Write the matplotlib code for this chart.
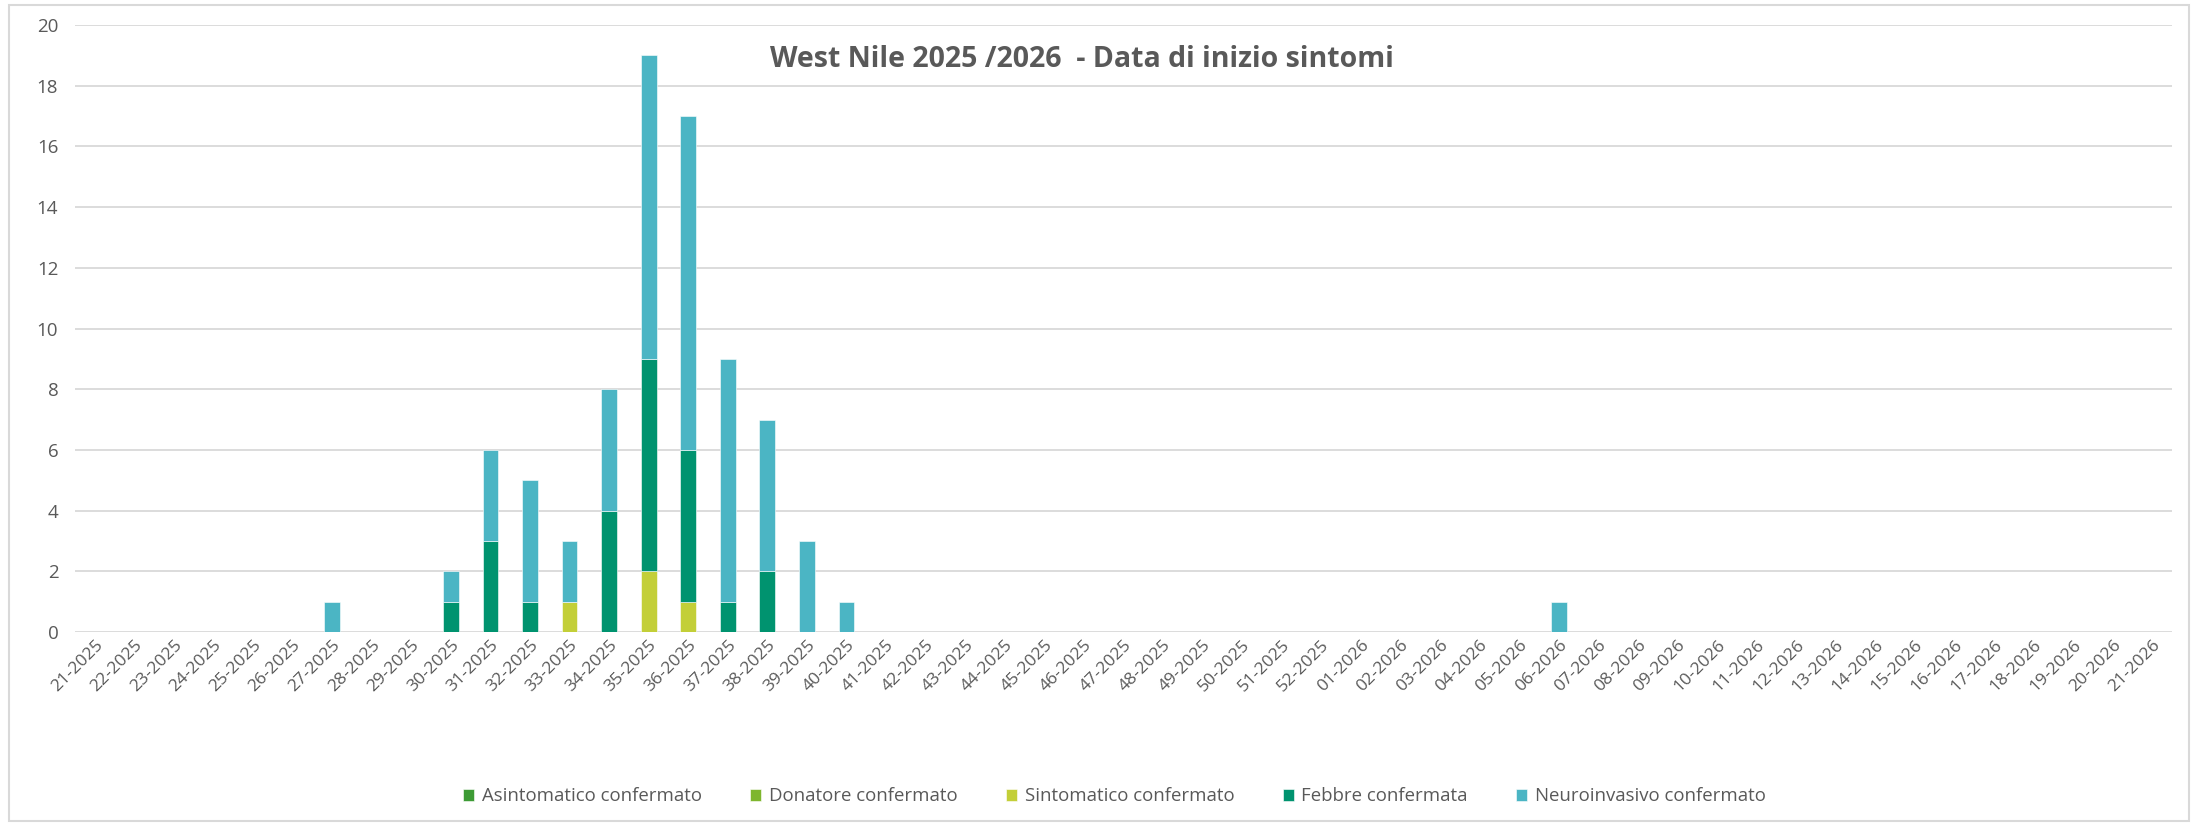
import numpy as np
import matplotlib.pyplot as plt
from matplotlib.patches import Rectangle

plt.rcParams['font.family'] = ['Open Sans', 'DejaVu Sans']

# settimane 21-2025 ... 52-2025, 01-2026 ... 21-2026
weeks = ['%02d-2025' % w for w in range(21, 53)] + ['%02d-2026' % w for w in range(1, 22)]

# casi per settimana (solo le settimane non nulle)
week_neuro = {'27-2025': 1, '30-2025': 1, '31-2025': 3, '32-2025': 4, '33-2025': 2,
              '34-2025': 4, '35-2025': 10, '36-2025': 11, '37-2025': 8, '38-2025': 5,
              '39-2025': 3, '40-2025': 1, '06-2026': 1}
week_febbre = {'30-2025': 1, '31-2025': 3, '32-2025': 1, '34-2025': 4, '35-2025': 7,
               '36-2025': 5, '37-2025': 1, '38-2025': 2}
week_sint = {'33-2025': 1, '35-2025': 2, '36-2025': 1}
week_donatore = {}
week_asint = {}

series_names = ['Asintomatico confermato', 'Donatore confermato', 'Sintomatico confermato',
                'Febbre confermata', 'Neuroinvasivo confermato']
series_data = [week_asint, week_donatore, week_sint, week_febbre, week_neuro]
colors = ['#3d9b35', '#7eb62e', '#c3cf38', '#00936f', '#4bb5c4']

fig = plt.figure(figsize=(21.98, 8.26), dpi=100)
ax = fig.add_axes([0.0341, 0.2349, 0.9541, 0.7348])

x = np.arange(len(weeks))
bottom = np.zeros(len(weeks))
for name, d, c in zip(series_names, series_data, colors):
    vals = np.array([d.get(w, 0) for w in weeks], dtype=float)
    ax.bar(x, vals, 0.4, bottom=bottom, color=c, label=name, zorder=3,
           edgecolor='white', linewidth=0.4)
    bottom += vals

ax.set_xlim(-0.5, len(weeks) - 0.5)
ax.set_ylim(0, 20)
ax.set_yticks(range(0, 21, 2))
ax.grid(axis='y', color='#d9d9d9', linewidth=1.3, zorder=0)
for s in ax.spines.values():
    s.set_visible(False)
ax.tick_params(axis='both', length=0, colors='#595959')
ax.tick_params(axis='y', pad=12, labelsize=13.5)
ax.set_xticks(x)
ax.set_xticklabels(weeks, rotation=45, ha='right', rotation_mode='anchor', fontsize=12.5)

ax.text(0.48, 0.944, 'West Nile 2025 /2026  - Data di inizio sintomi', transform=ax.transAxes,
        ha='center', va='center', fontsize=20.5, fontweight='bold', color='#595959')

leg = fig.legend(loc='center', bbox_to_anchor=(0.507, 0.036), ncol=5, frameon=False,
                 fontsize=13.4, handlelength=0.6, handleheight=0.6, handletextpad=0.4,
                 columnspacing=2.6, labelcolor='#595959')

fig.patches.append(Rectangle((0.004, 0.006), 0.992, 0.988, transform=fig.transFigure,
                             fill=False, edgecolor='#d9d9d9', linewidth=1.5))

fig.savefig('out.png', dpi=100)
